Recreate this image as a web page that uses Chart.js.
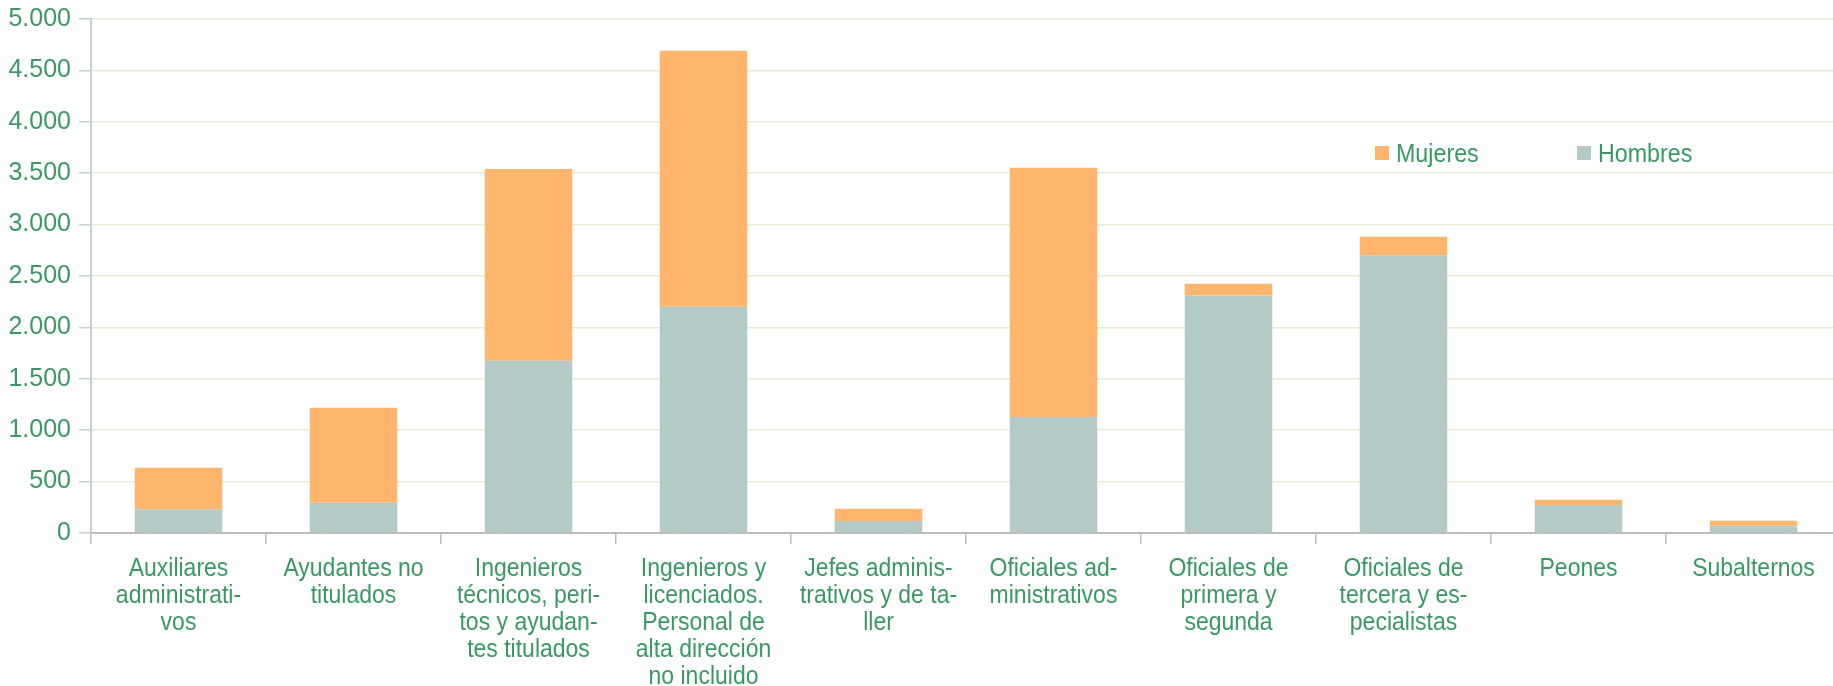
<!DOCTYPE html>
<html>
<head>
<meta charset="utf-8">
<script src="https://cdn.jsdelivr.net/npm/chart.js@4"></script>
<style>
  html, body { margin: 0; padding: 0; background: #fff; overflow: hidden; }
  #wrap { position: relative; width: 1841px; height: 686px; }
  #legend { position: absolute; top: 139px; left: 0; font-family: "Liberation Sans", Arial, sans-serif; font-size: 25px; color: #3a9866; }
  .item { position: absolute; top: 0; white-space: nowrap; line-height: 28px; }
  .box { display: inline-block; width: 14px; height: 14px; vertical-align: middle; margin-right: 7px; position: relative; top: -2px; }
  .txt { display: inline-block; transform: scaleX(0.93); transform-origin: left center; }
</style>
</head>
<body>
<div id="wrap">
  <canvas id="c" width="1841" height="686"></canvas>
  <div id="legend"></div>
</div>
<script>
const categories = [
  ["Auxiliares", "administrati-", "vos"],
  ["Ayudantes no", "titulados"],
  ["Ingenieros", "técnicos, peri-", "tos y ayudan-", "tes titulados"],
  ["Ingenieros y", "licenciados.", "Personal de", "alta dirección", "no incluido"],
  ["Jefes adminis-", "trativos y de ta-", "ller"],
  ["Oficiales ad-", "ministrativos"],
  ["Oficiales de", "primera y", "segunda"],
  ["Oficiales de", "tercera y es-", "pecialistas"],
  ["Peones"],
  ["Subalternos"]
];
const hombres = [230, 295, 1675, 2200, 117, 1128, 2311, 2701, 272, 71];
const mujeres = [405, 924, 1865, 2490, 119, 2426, 114, 181, 52, 49];
const seriesNames = ["Mujeres", "Hombres"];
const yTicks = [0, 500, 1000, 1500, 2000, 2500, 3000, 3500, 4000, 4500, 5000];

const green = "#3a9866";
const cMujeres = "#ffb56b";
const cHombres = "#b4cac6";
const fontFam = '"Liberation Sans", Arial, sans-serif';

function fmt(v) { return String(v).replace(/\B(?=(\d{3})+(?!\d))/g, "."); }

// Draw x-axis labels horizontally condensed (narrow-font look), still as real text.
const narrowLabels = {
  id: "narrowLabels",
  beforeDraw(chart) {
    const sc = chart.scales.x;
    if (!sc || sc._narrowPatched) return;
    sc._narrowPatched = true;
    const origDraw = sc.drawLabels.bind(sc);
    sc.drawLabels = function (area) {
      const ctx = this.ctx;
      const origFill = ctx.fillText;
      ctx.fillText = function (t, x, y, mw) {
        this.save();
        this.translate(x, y);
        this.scale(0.92, 1);
        origFill.call(this, t, 0, 0);
        this.restore();
      };
      try { origDraw(area); } finally { ctx.fillText = origFill; }
    };
  }
};

const chart = new Chart(document.getElementById("c"), {
  type: "bar",
  data: {
    labels: categories,
    datasets: [
      { label: seriesNames[1], data: hombres, backgroundColor: cHombres, stack: "s" },
      { label: seriesNames[0], data: mujeres, backgroundColor: cMujeres, stack: "s" }
    ]
  },
  plugins: [narrowLabels],
  options: {
    responsive: false,
    animation: false,
    layout: { padding: { top: 19, right: 0, left: 0, bottom: 0 } },
    plugins: { legend: { display: false }, tooltip: { enabled: false } },
    datasets: { bar: { barPercentage: 0.5, categoryPercentage: 1.0 } },
    scales: {
      x: {
        stacked: true,
        grid: { offset: true, drawOnChartArea: false, tickLength: 11, tickColor: "#bdbdbd", lineWidth: 1.5 },
        border: { color: "#bdbdbd", width: 2 },
        ticks: {
          color: green, maxRotation: 0, autoSkip: false, padding: 12,
          font: { family: fontFam, size: 25, lineHeight: 1.08 }
        },
        afterFit(scale) { scale.height = 686 - 533; }
      },
      y: {
        stacked: true,
        min: 0, max: 5000,
        afterBuildTicks(scale) { scale.ticks = yTicks.map(v => ({ value: v })); },
        grid: { color: "#e6ecd6", lineWidth: 1.5, tickLength: 12, tickColor: "#c5d1d1" },
        border: { color: "#c5d1d1", width: 2 },
        ticks: {
          color: green, padding: 8,
          font: { family: fontFam, size: 25 },
          callback: (v) => fmt(v)
        },
        afterFit(scale) { scale.width = 91; scale.paddingTop = 8; scale.paddingBottom = 8; }
      }
    }
  }
});

const legend = document.getElementById("legend");
const legendItems = [
  { name: seriesNames[0], color: cMujeres, left: 1375 },
  { name: seriesNames[1], color: cHombres, left: 1577 }
];
legendItems.forEach(it => {
  const d = document.createElement("div");
  d.className = "item";
  d.style.left = it.left + "px";
  const b = document.createElement("span");
  b.className = "box";
  b.style.background = it.color;
  d.appendChild(b);
  const t = document.createElement("span");
  t.className = "txt";
  t.textContent = it.name;
  d.appendChild(t);
  legend.appendChild(d);
});
</script>
</body>
</html>
